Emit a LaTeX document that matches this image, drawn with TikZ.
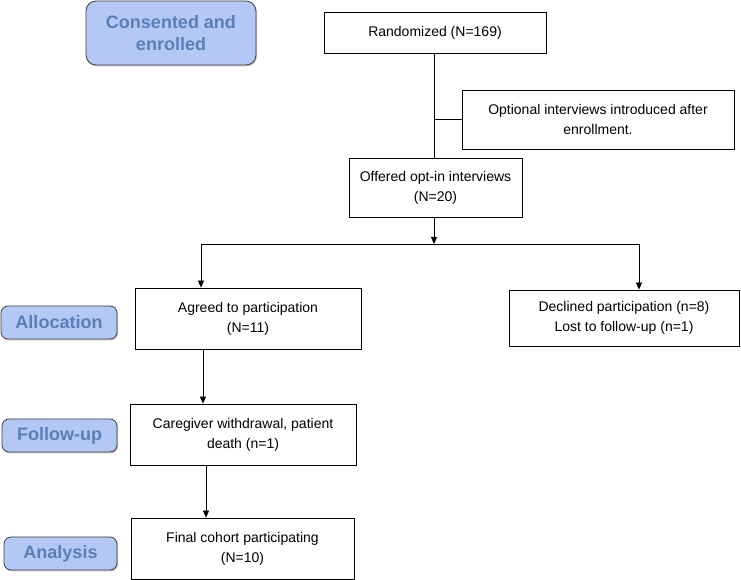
\documentclass[tikz,border=0pt]{standalone}
\usepackage{fontspec}
\setmainfont{Liberation Sans}
\usetikzlibrary{arrows.meta,shadows}
\definecolor{phasefill}{RGB}{180,200,245}
\definecolor{phasetext}{RGB}{92,126,182}

\begin{document}
\begin{tikzpicture}[x=1pt, y=1pt,
	box/.style={draw, line width=0.8pt, fill=white, align=center, inner sep=0pt, font=\fontsize{14}{20}\selectfont},
	phase/.style={draw=black!75, line width=0.8pt, rounded corners=7pt, fill=phasefill, text=phasetext, align=center, inner sep=0pt, font=\fontsize{18}{22}\selectfont\bfseries, drop shadow={shadow xshift=1pt, shadow yshift=-1.5pt, fill=black!45}},
	arr/.style={-{Triangle[length=7pt,width=6pt]}, line width=0.8pt}]
	\useasboundingbox (0,0) rectangle (741,580);
	% phase labels on the left
	\node[phase, minimum width=170, minimum height=64, rounded corners=10pt] (consent) at (171,547) {Consented and\\enrolled};
	\foreach \n/\x/\y/\w/\t in {alloc/59/257.5/116/Allocation, follow/59.5/144.5/115/Follow-up, analysis/60.5/26.5/113/Analysis} {\node[phase, minimum width=\w, minimum height=33] (\n) at (\x,\y) {\t};}
	% flow boxes
	\node[box, minimum width=222, minimum height=41] (rand) at (435,547.5) {Randomized (N=169)};
	\node[box, minimum width=272, minimum height=59] (optional) at (598,460.5) {Optional interviews introduced after\\enrollment.};
	\node[box, minimum width=173, minimum height=59] (offered) at (435.5,392.5) {Offered opt-in interviews\\(N=20)};
	\node[box, minimum width=226, minimum height=61] (agreed) at (248,261.5) {Agreed to participation\\(N=11)};
	\node[box, minimum width=230, minimum height=56] (declined) at (624,262) {Declined participation (n=8)\\Lost to follow-up (n=1)};
	\node[box, minimum width=226, minimum height=61] (caregiver) at (243,145.5) {Caregiver withdrawal, patient\\death (n=1)};
	\node[box, minimum width=223, minimum height=61] (final) at (242.5,31.5) {Final cohort participating\\(N=10)};
	% connectors
	\coordinate (split) at (434,336);
	\coordinate (lft) at (201,336);
	\coordinate (rgt) at (639,336);
	\draw[line width=0.8pt] (rand.south -| split) -- (offered.north -| split);
	\draw[line width=0.8pt] (optional.west -| split) -- (optional.west);
	\draw[arr] (offered.south -| split) -- (split);
	\draw[line width=0.8pt] (lft) -- (rgt);
	\draw[arr] (lft) -- (lft |- agreed.north);
	\draw[arr] (rgt) -- (rgt |- declined.north);
	\draw[arr] ([xshift=-45pt]agreed.south) -- ([xshift=-45pt]agreed.south |- caregiver.north);
	\draw[arr] ([xshift=-37pt]caregiver.south) -- ([xshift=-37pt]caregiver.south |- final.north);
\end{tikzpicture}
\end{document}
